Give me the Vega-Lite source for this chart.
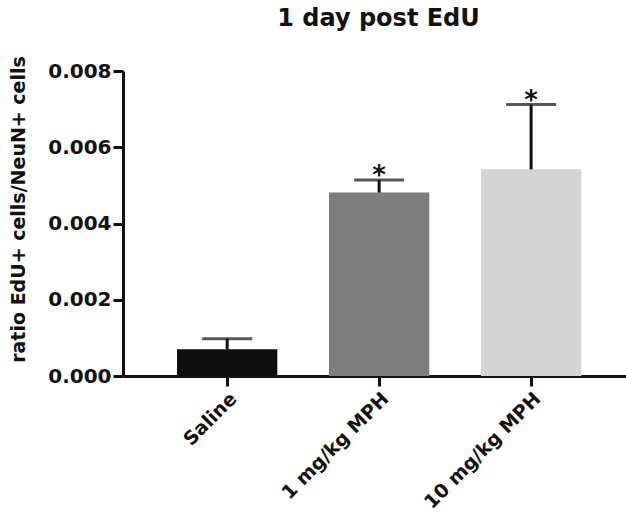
{
  "$schema": "https://vega.github.io/schema/vega-lite/v6.json",
  "width": 503,
  "height": 305,
  "autosize": {"type": "none"},
  "padding": {"left": 123, "top": 71, "right": 0, "bottom": 142},
  "background": "white",
  "title": {
    "text": "1 day post EdU",
    "font": "DejaVu Sans",
    "fontSize": 24,
    "fontWeight": "bold",
    "color": "#111111",
    "anchor": "middle",
    "frame": "group",
    "offset": 25,
    "dx": 4
  },
  "data": {
    "values": [
      {"group": "Saline", "mean": 0.0007, "upper": 0.00098, "sig": ""},
      {"group": "1 mg/kg MPH", "mean": 0.00481, "upper": 0.00514, "sig": "*"},
      {"group": "10 mg/kg MPH", "mean": 0.00542, "upper": 0.00712, "sig": "*"}
    ]
  },
  "encoding": {
    "x": {
      "field": "group",
      "type": "nominal",
      "sort": null,
      "scale": {"type": "band", "paddingInner": 0.34, "paddingOuter": 0.325, "align": 0.547},
      "axis": {
        "title": null,
        "labelAngle": -45,
        "labelFont": "DejaVu Sans",
        "labelFontSize": 19,
        "labelFontWeight": "bold",
        "labelColor": "#111111",
        "labelPadding": 3,
        "tickSize": 10,
        "tickWidth": 3,
        "tickColor": "#111111",
        "domainWidth": 3,
        "domainColor": "#111111"
      }
    }
  },
  "layer": [
    {
      "mark": {"type": "bar"},
      "encoding": {
        "y": {
          "field": "mean",
          "type": "quantitative",
          "scale": {"domain": [0, 0.008], "nice": false},
          "axis": {
            "title": "ratio EdU+ cells/NeuN+ cells",
            "titleFont": "DejaVu Sans",
            "titleFontSize": 19,
            "titleFontWeight": "bold",
            "titleColor": "#111111",
            "titlePadding": 19,
            "titleY": 138,
            "values": [0, 0.002, 0.004, 0.006, 0.008],
            "format": ".3f",
            "grid": false,
            "labelFont": "DejaVu Sans",
            "labelFontSize": 20,
            "labelFontWeight": "bold",
            "labelColor": "#111111",
            "labelPadding": 2,
            "tickSize": 10,
            "tickWidth": 3,
            "tickColor": "#111111",
            "domainWidth": 3,
            "domainColor": "#111111"
          }
        },
        "color": {
          "field": "group",
          "type": "nominal",
          "sort": null,
          "scale": {"domain": ["Saline", "1 mg/kg MPH", "10 mg/kg MPH"], "range": ["#0d0d0d", "#7e7e7e", "#d4d4d4"]},
          "legend": null
        }
      }
    },
    {
      "mark": {"type": "rule", "strokeWidth": 3, "color": "#111111"},
      "encoding": {
        "y": {"field": "mean", "type": "quantitative"},
        "y2": {"field": "upper"}
      }
    },
    {
      "mark": {"type": "tick", "size": 50, "thickness": 3, "color": "#111111", "orient": "horizontal"},
      "encoding": {
        "y": {"field": "upper", "type": "quantitative"}
      }
    },
    {
      "mark": {"type": "text", "font": "DejaVu Sans", "fontSize": 26, "fontWeight": "bold", "color": "#111111", "baseline": "alphabetic", "dy": 4},
      "encoding": {
        "y": {"field": "upper", "type": "quantitative"},
        "text": {"field": "sig"}
      }
    }
  ],
  "config": {"view": {"stroke": null}}
}
